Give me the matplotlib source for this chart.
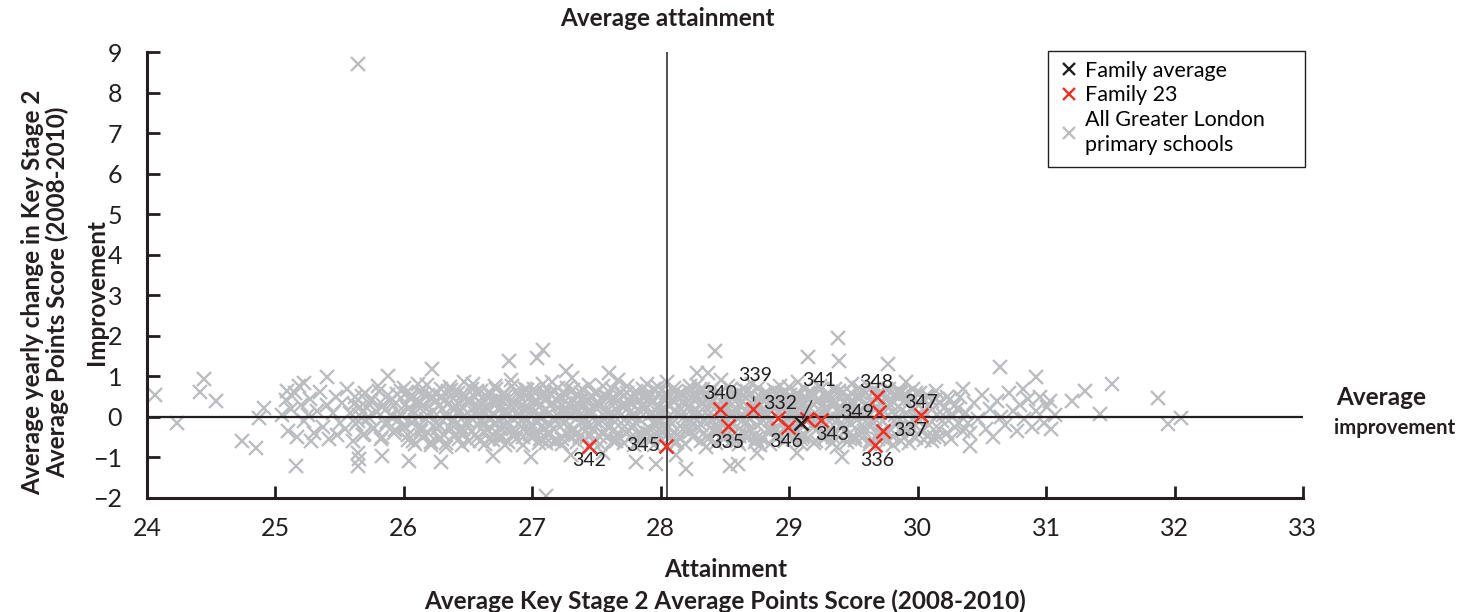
import matplotlib
matplotlib.use("Agg")
import matplotlib.pyplot as plt
from matplotlib.lines import Line2D
from matplotlib.patches import Rectangle

plt.rcParams['font.family'] = ['Lato', 'DejaVu Sans']

# ---------------- data ----------------
gray_outliers = [(25.64, 8.7), (24.06, 0.54), (24.23, -0.16), (24.44, 0.93), (24.41, 0.62),
                 (24.54, 0.38), (24.74, -0.59), (24.85, -0.77), (24.87, -0.03), (24.91, 0.23),
                 (25.16, -1.2), (25.40, 0.98), (25.88, 1.0), (25.64, -0.9), (25.65, -1.05),
                 (25.64, -1.2), (25.83, -0.96), (27.08, 1.66), (27.04, 1.46), (26.82, 1.38),
                 (26.22, 1.17), (27.26, 1.13), (27.60, 1.09), (27.11, -1.94), (26.29, -1.12),
                 (26.04, -1.08), (27.81, -1.12), (27.96, -1.16), (26.33, -0.75), (26.69, -0.96),
                 (26.99, -1.0), (28.42, 1.62), (29.38, 1.95), (29.39, 1.38), (29.15, 1.47),
                 (29.77, 1.31), (28.28, 1.09), (28.37, 1.09), (28.20, -1.29), (28.54, -1.2),
                 (29.41, -1.0), (29.06, -0.88), (30.64, 1.23), (30.92, 0.98), (30.82, 0.68),
                 (31.30, 0.64), (31.51, 0.80), (31.20, 0.39), (31.87, 0.46), (31.42, 0.07),
                 (31.95, -0.18), (32.05, -0.02), (30.41, -0.71), (27.3, -0.95), (27.55, -0.9),
                 (28.12, -0.95), (28.6, -1.15), (28.75, -0.9)]

cloud_west = [(25.05, 0.05), (25.08, 0.42), (25.1, -0.35), (25.12, 0.2), (25.15, 0.6), (25.17, -0.5),
              (25.2, 0.3), (25.22, -0.1), (25.25, 0.05), (25.27, 0.45), (25.3, -0.4), (25.32, 0.15),
              (25.35, 0.62), (25.37, -0.25), (25.4, 0.3), (25.42, -0.55), (25.45, 0.1), (25.47, 0.5),
              (25.5, -0.15), (25.48, -0.45), (25.28, -0.6), (25.18, 0.75), (25.09, 0.64), (25.22, 0.84),
              (25.52, 0.35), (25.54, -0.3), (25.56, 0.7), (25.58, 0.1), (25.6, -0.6), (25.62, 0.5),
              (25.64, -0.1), (25.66, 0.25), (25.68, -0.45), (25.7, 0.6), (25.72, 0.0), (25.74, 0.4),
              (25.76, -0.3), (25.78, 0.15), (25.8, 0.75), (25.82, -0.55), (25.84, 0.3), (25.86, -0.2),
              (25.88, 0.55), (25.9, 0.05), (25.92, -0.4), (25.94, 0.35), (25.96, -0.05), (25.98, 0.65)]

cloud_mid_a = [(26.01, -0.25), (26.03, 0.2), (26.05, 0.5), (26.07, -0.6), (26.09, 0.1), (26.11, 0.8),
               (26.13, -0.35), (26.15, 0.3), (26.17, -0.05), (26.19, 0.55), (26.21, -0.7), (26.23, 0.15),
               (26.25, 0.4), (26.27, -0.2), (26.29, 0.7), (26.31, -0.45), (26.33, 0.0), (26.35, 0.35),
               (26.37, -0.3), (26.39, 0.6), (26.41, 0.1), (26.43, -0.55), (26.45, 0.25), (26.47, 0.85),
               (26.49, -0.1), (26.51, 0.45), (26.53, -0.35), (26.55, 0.1), (26.57, 0.65), (26.59, -0.6),
               (26.61, 0.3), (26.63, -0.15), (26.65, 0.5), (26.67, 0.0), (26.69, -0.45), (26.71, 0.75),
               (26.73, 0.2), (26.75, -0.25), (26.77, 0.4), (26.79, -0.7), (26.81, 0.05), (26.83, 0.9),
               (26.85, -0.3), (26.87, 0.3), (26.89, 0.6), (26.91, -0.1), (26.93, -0.5), (26.95, 0.15),
               (26.97, 0.45), (26.99, -0.2), (27.01, 0.7), (27.03, -0.4), (27.05, 0.25), (27.07, -0.05),
               (27.09, 0.55), (27.11, -0.65), (27.13, 0.1), (27.15, 0.85), (27.17, -0.3), (27.19, 0.4),
               (27.21, 0.0), (27.23, -0.55), (27.25, 0.6), (27.27, 0.2), (27.29, -0.2), (27.31, 0.95),
               (27.33, -0.45), (27.35, 0.35), (27.37, 0.05), (27.39, 0.7), (27.41, -0.35), (27.43, 0.15),
               (27.45, -0.75), (27.47, 0.5), (27.49, -0.1), (27.51, 0.3), (27.53, -0.5), (27.55, 0.75),
               (27.57, 0.0), (27.59, -0.25), (27.61, 0.45), (27.63, -0.6), (27.65, 0.2), (27.67, 0.9),
               (27.69, -0.15), (27.71, 0.55), (27.73, -0.4), (27.75, 0.1), (27.77, 0.35), (27.79, -0.7),
               (27.81, 0.65), (27.83, -0.05), (27.85, 0.25), (27.87, -0.35), (27.89, 0.8), (27.91, 0.05),
               (27.93, -0.55), (27.95, 0.4), (27.97, -0.2), (27.99, 0.6)]

cloud_mid_b = [(28.01, -0.4), (28.03, 0.2), (28.05, 0.85), (28.07, -0.1), (28.09, 0.45), (28.11, -0.65),
               (28.13, 0.1), (28.15, 0.6), (28.17, -0.3), (28.19, 0.3), (28.21, -0.05), (28.23, 0.75),
               (28.25, -0.5), (28.27, 0.15), (28.29, 0.5), (28.31, -0.2), (28.33, 0.35), (28.35, -0.75),
               (28.37, 0.05), (28.39, 0.65), (28.41, -0.35), (28.43, 0.25), (28.45, -0.1), (28.47, 0.9),
               (28.49, -0.55), (28.51, 0.4), (28.53, -0.2), (28.55, 0.7), (28.57, 0.05), (28.59, -0.6),
               (28.61, 0.3), (28.63, -0.35), (28.65, 0.55), (28.67, 0.15), (28.69, -0.05), (28.71, 0.8),
               (28.73, -0.45), (28.75, 0.2), (28.77, -0.7), (28.79, 0.45), (28.81, 0.0), (28.83, 0.6),
               (28.85, -0.25), (28.87, 0.35), (28.89, -0.5), (28.91, 0.1), (28.93, 0.75), (28.95, -0.15),
               (28.97, 0.25), (28.99, -0.4), (29.01, 0.55), (29.03, -0.3), (29.05, 0.1), (29.07, 0.85),
               (29.09, -0.55), (29.11, 0.35), (29.13, -0.1), (29.15, 0.6), (29.17, 0.0), (29.19, -0.65),
               (29.21, 0.4), (29.23, -0.25), (29.25, 0.7), (29.27, 0.2), (29.29, -0.45), (29.31, 0.5),
               (29.33, -0.05), (29.35, 0.3), (29.37, -0.75), (29.39, 0.65), (29.41, 0.1), (29.43, -0.35),
               (29.45, 0.45), (29.47, -0.15), (29.49, 0.8), (29.51, -0.5), (29.53, 0.25), (29.55, 0.6),
               (29.57, -0.2), (29.59, 0.05), (29.61, 0.75), (29.63, -0.6), (29.65, 0.35), (29.67, -0.05),
               (29.69, 0.5), (29.71, -0.4), (29.73, 0.15), (29.75, 0.7), (29.77, -0.25), (29.79, 0.3),
               (29.81, -0.7), (29.83, 0.55), (29.85, 0.0), (29.87, -0.35), (29.89, 0.4), (29.91, 0.85),
               (29.93, -0.15), (29.95, 0.2), (29.97, -0.5), (29.99, 0.6)]

cloud_core_extra = [(26.02, 0.6), (26.06, -0.15), (26.1, 0.3), (26.14, -0.5), (26.18, 0.05), (26.22, 0.45),
                    (26.26, -0.3), (26.3, 0.2), (26.34, 0.65), (26.38, -0.1), (26.42, 0.35), (26.46, -0.4),
                    (26.5, 0.1), (26.54, 0.55), (26.58, -0.2), (26.62, 0.15), (26.66, -0.55), (26.7, 0.4),
                    (26.74, -0.05), (26.78, 0.6), (26.82, 0.25), (26.86, -0.4), (26.9, 0.05), (26.94, 0.7),
                    (26.98, -0.3), (27.02, 0.15), (27.06, -0.55), (27.1, 0.45), (27.14, -0.2), (27.18, 0.65),
                    (27.22, 0.3), (27.26, -0.4), (27.3, 0.05), (27.34, 0.55), (27.38, -0.15), (27.42, 0.4),
                    (27.46, -0.45), (27.5, 0.2), (27.54, -0.1), (27.58, 0.5), (27.62, 0.1), (27.66, -0.45),
                    (27.7, 0.3), (27.74, 0.6), (27.78, -0.2), (27.82, 0.2), (27.86, 0.5), (27.9, -0.4),
                    (27.94, 0.1), (27.98, -0.1), (28.02, 0.45), (28.06, -0.25), (28.1, 0.15), (28.14, -0.5),
                    (28.18, 0.55), (28.22, 0.25), (28.26, -0.15), (28.3, 0.65), (28.34, -0.4), (28.38, 0.3),
                    (28.42, 0.0), (28.46, -0.3), (28.5, 0.5), (28.54, 0.1), (28.58, -0.4), (28.62, 0.6),
                    (28.66, -0.15), (28.7, 0.35), (28.74, -0.55), (28.78, 0.15), (28.82, 0.45), (28.86, -0.35),
                    (28.9, 0.55), (28.94, -0.1), (28.98, 0.4), (29.02, -0.15), (29.06, 0.4), (29.1, -0.45),
                    (29.14, 0.2), (29.18, 0.5), (29.22, -0.3), (29.26, 0.1), (29.3, 0.6), (29.34, -0.5),
                    (29.38, 0.2), (29.42, -0.2), (29.46, 0.3), (29.5, 0.05), (29.54, 0.45), (29.58, -0.35),
                    (29.62, 0.1), (29.66, -0.15), (29.7, 0.6), (29.74, -0.45), (29.78, 0.25), (29.82, 0.05),
                    (29.86, 0.65), (29.9, -0.3), (29.94, 0.45), (29.98, 0.0)]

cloud_fill_west = [(25.61, 0.32), (25.63, -0.18), (25.65, 0.05), (25.67, 0.52), (25.69, -0.41), (25.71, 0.22),
                   (25.73, -0.02), (25.75, 0.44), (25.77, -0.27), (25.79, 0.12), (25.81, 0.63), (25.83, -0.5),
                   (25.85, 0.18), (25.87, -0.12), (25.89, 0.38), (25.91, 0.0), (25.93, -0.33), (25.95, 0.57),
                   (25.97, 0.08), (25.99, -0.22), (26.01, 0.29), (26.03, -0.45), (26.05, 0.48), (26.07, 0.14),
                   (26.09, -0.07), (26.11, 0.36), (26.13, -0.28), (26.15, 0.6), (26.17, 0.2), (26.19, -0.4),
                   (26.21, 0.07), (26.23, 0.5), (26.25, -0.15), (26.27, 0.27), (26.29, -0.52), (26.31, 0.4),
                   (26.33, 0.1), (26.35, -0.25), (26.37, 0.66), (26.39, -0.05), (26.41, 0.24), (26.43, -0.38),
                   (26.45, 0.53), (26.47, 0.03), (26.49, -0.2), (26.51, 0.34), (26.53, 0.7), (26.55, -0.45),
                   (26.57, 0.15), (26.59, -0.1), (26.61, 0.46), (26.63, 0.25), (26.65, -0.32), (26.67, 0.58),
                   (26.69, 0.08), (26.71, -0.2), (26.73, 0.37), (26.75, -0.55), (26.77, 0.12), (26.79, 0.5),
                   (26.81, -0.12), (26.83, 0.3), (26.85, -0.42), (26.87, 0.65), (26.89, 0.02), (26.91, 0.26),
                   (26.93, -0.3), (26.95, 0.54), (26.97, -0.08), (26.99, 0.18), (27.01, -0.48), (27.03, 0.42),
                   (27.05, 0.08), (27.07, -0.25), (27.09, 0.62), (27.11, 0.2), (27.13, -0.38), (27.15, 0.35),
                   (27.17, 0.0), (27.19, -0.6), (27.21, 0.5), (27.23, 0.15), (27.25, -0.15), (27.27, 0.72),
                   (27.29, 0.3), (27.31, -0.35), (27.33, 0.1), (27.35, 0.55), (27.37, -0.5), (27.39, 0.22),
                   (27.41, -0.02), (27.43, 0.45), (27.45, 0.18), (27.47, -0.3), (27.49, 0.6), (27.51, -0.12),
                   (27.53, 0.28), (27.55, -0.42), (27.57, 0.52), (27.59, 0.05), (27.61, -0.22), (27.63, 0.38),
                   (27.65, -0.55), (27.67, 0.15), (27.69, 0.62), (27.71, -0.08), (27.73, 0.3), (27.75, -0.35),
                   (27.77, 0.5), (27.79, 0.02), (27.81, -0.15), (27.83, 0.42), (27.85, -0.48), (27.87, 0.2),
                   (27.89, 0.55), (27.91, -0.28), (27.93, 0.1), (27.95, 0.68), (27.97, -0.38), (27.99, 0.25)]

cloud_fill_east = [(28.01, 0.1), (28.03, -0.3), (28.05, 0.5), (28.07, 0.28), (28.09, -0.18), (28.11, 0.62),
                   (28.13, -0.45), (28.15, 0.05), (28.17, 0.4), (28.19, -0.1), (28.21, 0.22), (28.23, -0.38),
                   (28.25, 0.55), (28.27, 0.0), (28.29, -0.25), (28.31, 0.34), (28.33, 0.68), (28.35, -0.5),
                   (28.37, 0.18), (28.39, -0.05), (28.41, 0.45), (28.43, -0.28), (28.45, 0.6), (28.47, 0.12),
                   (28.49, -0.4), (28.51, 0.3), (28.53, 0.05), (28.55, -0.15), (28.57, 0.52), (28.59, 0.2),
                   (28.61, -0.48), (28.63, 0.4), (28.65, -0.05), (28.67, 0.65), (28.69, -0.3), (28.71, 0.15),
                   (28.73, 0.45), (28.75, -0.2), (28.77, 0.3), (28.79, -0.52), (28.81, 0.58), (28.83, 0.1),
                   (28.85, -0.08), (28.87, 0.48), (28.89, 0.22), (28.91, -0.42), (28.93, 0.35), (28.95, -0.18),
                   (28.97, 0.6), (28.99, 0.05), (29.01, -0.35), (29.03, 0.25), (29.05, 0.55), (29.07, -0.12),
                   (29.09, 0.4), (29.11, -0.5), (29.13, 0.18), (29.15, -0.02), (29.17, 0.62), (29.19, 0.3),
                   (29.21, -0.2), (29.23, 0.45), (29.25, -0.45), (29.27, 0.08), (29.29, 0.5), (29.31, -0.1),
                   (29.33, 0.28), (29.35, -0.38), (29.37, 0.6), (29.39, 0.12), (29.41, -0.25), (29.43, 0.35),
                   (29.45, 0.0), (29.47, -0.55), (29.49, 0.42), (29.51, 0.2), (29.53, -0.08), (29.55, 0.5),
                   (29.57, -0.4), (29.59, 0.3), (29.61, 0.08), (29.63, -0.22), (29.65, 0.58), (29.67, 0.18),
                   (29.69, -0.45), (29.71, 0.32), (29.73, -0.1), (29.75, 0.48), (29.77, 0.05), (29.79, -0.32),
                   (29.81, 0.4), (29.83, -0.15), (29.85, 0.25), (29.87, 0.6), (29.89, -0.5), (29.91, 0.1),
                   (29.93, 0.35), (29.95, -0.25), (29.97, 0.5), (29.99, -0.05), (30.01, 0.3), (30.03, -0.35),
                   (30.05, 0.15), (30.07, 0.55), (30.09, -0.2), (30.11, 0.4), (30.13, -0.5), (30.15, 0.05),
                   (30.17, 0.35), (30.19, -0.1), (30.21, 0.25), (30.23, -0.4), (30.25, 0.45), (30.27, 0.0),
                   (30.29, -0.25), (30.31, 0.2), (30.33, 0.5), (30.35, -0.35), (30.37, 0.1), (30.39, -0.15)]

cloud_fill_core = [(26.42, 0.12), (26.46, -0.3), (26.5, 0.4), (26.54, -0.05), (26.58, 0.28), (26.62, -0.38),
                   (26.66, 0.2), (26.7, 0.02), (26.74, 0.45), (26.78, -0.25), (26.82, 0.1), (26.86, 0.35),
                   (26.9, -0.18), (26.94, 0.25), (26.98, -0.42), (27.02, 0.4), (27.06, 0.0), (27.1, -0.28),
                   (27.14, 0.3), (27.18, -0.1), (27.22, 0.48), (27.26, 0.1), (27.3, -0.35), (27.34, 0.22),
                   (27.38, 0.42), (27.42, -0.2), (27.46, 0.05), (27.5, 0.35), (27.54, -0.4), (27.58, 0.15),
                   (27.62, -0.05), (27.66, 0.4), (27.7, -0.3), (27.74, 0.2), (27.78, 0.02), (27.82, -0.42),
                   (27.86, 0.3), (27.9, 0.45), (27.94, -0.15), (27.98, 0.1), (28.02, -0.2), (28.06, 0.35),
                   (28.1, -0.38), (28.14, 0.25), (28.18, 0.0), (28.22, -0.3), (28.26, 0.42), (28.3, 0.12),
                   (28.34, -0.1), (28.38, 0.48), (28.42, -0.35), (28.46, 0.05), (28.5, 0.28), (28.54, -0.25),
                   (28.58, 0.4), (28.62, 0.0), (28.66, -0.42), (28.7, 0.2), (28.74, 0.35), (28.78, -0.15),
                   (28.82, 0.1), (28.86, 0.42), (28.9, -0.3), (28.94, 0.22), (28.98, -0.05), (29.02, 0.35),
                   (29.06, -0.4), (29.1, 0.15), (29.14, 0.45), (29.18, -0.2), (29.22, 0.05), (29.26, 0.3),
                   (29.3, -0.35), (29.34, 0.4), (29.38, -0.05), (29.42, 0.2), (29.46, -0.45), (29.5, 0.35),
                   (29.54, 0.1), (29.58, -0.25)]

cloud_fill_edge = [(26.0, 0.72), (26.03, -0.58), (26.06, 0.55), (26.09, -0.68), (26.12, 0.62), (26.15, -0.5),
                   (26.18, 0.78), (26.21, -0.62), (26.24, 0.58), (26.27, -0.55), (26.3, 0.5), (26.33, -0.65),
                   (26.36, 0.74), (26.39, -0.48), (26.42, 0.6), (26.45, -0.7), (26.48, 0.52), (26.51, -0.6),
                   (26.54, 0.82), (26.57, -0.52), (26.6, 0.64), (26.63, -0.66), (26.66, 0.56), (26.69, -0.58),
                   (26.72, 0.7), (26.75, -0.48), (26.78, 0.6), (26.81, -0.62), (26.84, 0.76), (26.87, -0.55),
                   (26.9, 0.52), (26.93, -0.7), (26.96, 0.66), (26.99, -0.5), (27.02, 0.58), (27.05, -0.64),
                   (27.08, 0.8), (27.11, -0.52), (27.14, 0.6), (27.17, -0.6), (27.2, 0.72), (27.23, -0.68),
                   (27.26, 0.55), (27.29, -0.5), (27.32, 0.66), (27.35, -0.62), (27.38, 0.58), (27.41, -0.55),
                   (27.44, 0.78), (27.47, -0.6), (27.5, 0.62), (27.53, -0.68), (27.56, 0.54), (27.59, -0.48),
                   (27.62, 0.7), (27.65, -0.6), (27.68, 0.6), (27.71, -0.65), (27.74, 0.76), (27.77, -0.5),
                   (27.8, 0.55), (27.83, -0.62), (27.86, 0.68), (27.89, -0.55), (27.92, 0.6), (27.95, -0.7),
                   (27.98, 0.74), (28.01, -0.58), (28.04, 0.6), (28.07, -0.52), (28.1, 0.72), (28.13, -0.62),
                   (28.16, 0.56), (28.19, -0.66), (28.22, 0.64), (28.25, -0.5), (28.28, 0.78), (28.31, -0.6),
                   (28.34, 0.55), (28.37, -0.55), (28.4, 0.7), (28.43, -0.64), (28.46, 0.6), (28.49, -0.5),
                   (28.52, 0.75), (28.55, -0.6), (28.58, 0.55), (28.61, -0.66), (28.64, 0.68), (28.67, -0.52),
                   (28.7, 0.6), (28.73, -0.62), (28.76, 0.72), (28.79, -0.55), (28.82, 0.56), (28.85, -0.68),
                   (28.88, 0.66), (28.91, -0.5), (28.94, 0.6), (28.97, -0.6), (29.0, 0.74), (29.03, -0.55),
                   (29.06, 0.58), (29.09, -0.66), (29.12, 0.7), (29.15, -0.52), (29.18, 0.6), (29.21, -0.6),
                   (29.24, 0.76), (29.27, -0.55), (29.3, 0.55), (29.33, -0.64), (29.36, 0.68), (29.39, -0.5),
                   (29.42, 0.62), (29.45, -0.62), (29.48, 0.58), (29.51, -0.58), (29.54, 0.72), (29.57, -0.52),
                   (29.6, 0.6), (29.63, -0.66), (29.66, 0.66), (29.69, -0.55), (29.72, 0.58), (29.75, -0.6),
                   (29.78, 0.7), (29.81, -0.5), (29.84, 0.62), (29.87, -0.6), (29.9, 0.56), (29.93, -0.64),
                   (29.96, 0.7), (29.99, -0.52), (30.02, 0.6), (30.05, -0.58), (30.08, 0.5), (30.11, -0.6),
                   (30.14, 0.45), (30.17, -0.5)]

cloud_east = [(30.02, -0.1), (30.05, 0.45), (30.08, -0.45), (30.11, 0.2), (30.14, 0.65), (30.17, -0.3),
              (30.2, 0.05), (30.23, 0.5), (30.26, -0.55), (30.29, 0.3), (30.32, -0.15), (30.35, 0.7),
              (30.38, 0.1), (30.41, -0.4), (30.44, 0.35), (30.47, -0.05), (30.5, 0.55), (30.53, -0.3),
              (30.56, 0.2), (30.59, -0.5), (30.62, 0.4), (30.65, 0.0), (30.68, -0.2), (30.71, 0.6),
              (30.74, 0.15), (30.77, -0.35), (30.8, 0.3), (30.83, -0.05), (30.86, 0.45), (30.89, -0.25),
              (30.92, 0.15), (30.95, 0.5), (30.98, -0.15), (31.01, 0.25), (31.04, -0.3), (31.07, 0.05),
              (31.03, 0.4)]

family_ids = ['332', '335', '336', '337', '339', '340', '341', '342', '343', '345', '346', '347', '348', '349']
family_x = [28.91, 28.52, 29.67, 29.73, 28.72, 28.46, 29.14, 27.44, 29.25, 28.04, 28.99, 30.03, 29.68, 29.70]
family_y = [-0.02, -0.22, -0.69, -0.34, 0.19, 0.19, -0.05, -0.71, -0.08, -0.71, -0.26, 0.04, 0.49, 0.11]

family_avg_x = 29.09
family_avg_y = -0.14
london_avg_attainment = 28.05
london_avg_improvement = 0.0

x_ticks = [24, 25, 26, 27, 28, 29, 30, 31, 32, 33]
y_ticks = [-2, -1, 0, 1, 2, 3, 4, 5, 6, 7, 8, 9]

# label placement (offset in points, alignment)
label_layout = {
    '332': (2, 10, 'center'), '335': (0, -12, 'center'), '336': (1, -11, 'center'),
    '337': (7.5, 0, 'left'), '339': (1, 24, 'center'), '340': (0, 11, 'center'),
    '341': (8.5, 26.5, 'center'), '342': (0, -10.5, 'center'), '343': (7.7, -10.6, 'center'),
    '345': (-4.3, 0, 'right'), '346': (-1, -10, 'center'), '347': (0, 9, 'center'),
    '348': (0, 10.3, 'center'), '349': (-4, 0, 'right'),
}

GRAY = '#bcbdc0'
RED = '#ec3126'
INK = '#231f20'

# ---------------- figure ----------------
fig = plt.figure(figsize=(14.63, 6.12), dpi=100)
ax = fig.add_axes([0.1005, 0.1863, 0.7901, 0.7287])

all_gray = (gray_outliers + cloud_west + cloud_mid_a + cloud_mid_b + cloud_core_extra
            + cloud_fill_west + cloud_fill_east + cloud_fill_core + cloud_fill_edge + cloud_east)
gx = [p[0] for p in all_gray]
gy = [p[1] for p in all_gray]
ax.plot(gx, gy, linestyle='none', marker='x', color=GRAY, markersize=10, markeredgewidth=1.7, zorder=2)

ax.axhline(london_avg_improvement, color=INK, lw=1.6, zorder=3)
ax.axvline(london_avg_attainment, color=INK, lw=1.1, zorder=3)

ax.plot(family_x, family_y, linestyle='none', marker='x', color=RED, markersize=10,
        markeredgewidth=1.8, zorder=4)
ax.plot([family_avg_x], [family_avg_y], linestyle='none', marker='x', color=INK,
        markersize=10, markeredgewidth=1.8, zorder=5)

for fid, fx, fy in zip(family_ids, family_x, family_y):
    dx, dy, ha = label_layout[fid]
    if fid == '339':
        ax.annotate(fid, xy=(fx, fy), xytext=(dx, dy), textcoords='offset points',
                    ha=ha, va='center', fontsize=14, color=INK, zorder=6,
                    arrowprops=dict(arrowstyle='-', color=INK, lw=0.9, shrinkA=7, shrinkB=6))
    elif fid == '341':
        ax.annotate(fid, xy=(family_avg_x, family_avg_y), xytext=(dx + 5, dy + 4),
                    textcoords='offset points', ha=ha, va='center', fontsize=14, color=INK,
                    zorder=6, arrowprops=dict(arrowstyle='-', color=INK, lw=0.9, shrinkA=7,
                                              shrinkB=3, relpos=(0.45, 0.0)))
    else:
        ax.annotate(fid, xy=(fx, fy), xytext=(dx, dy), textcoords='offset points',
                    ha=ha, va='center', fontsize=14, color=INK, zorder=6)

ax.set_xlim(24, 33)
ax.set_ylim(-2, 9)
ax.set_xticks(x_ticks)
ax.set_yticks(y_ticks)
ax.spines['top'].set_visible(False)
ax.spines['right'].set_visible(False)
for s in ('left', 'bottom'):
    ax.spines[s].set_linewidth(2.2)
    ax.spines[s].set_color(INK)
ax.tick_params(axis='both', direction='in', length=9, width=2, color=INK,
               labelsize=18, labelcolor=INK)
ax.tick_params(axis='x', pad=14)
ax.tick_params(axis='y', pad=18)

# axis titles
TS = 17.5
fig.text(0.4959, 0.070, 'Attainment', ha='center', va='center', fontsize=TS, fontweight='bold',
         color=INK)
fig.text(0.4959, 0.018, 'Average Key Stage 2 Average Points Score (2008-2010)', ha='center',
         va='center', fontsize=TS, fontweight='bold', color=INK)
fig.text(0.066, 0.523, 'Improvement', ha='center', va='center', rotation=90, fontsize=TS,
         fontweight='bold', color=INK)
fig.text(0.031, 0.523, 'Average yearly change in Key Stage 2\nAverage Points Score (2008-2010)',
         ha='center', va='center', rotation=90, fontsize=TS, fontweight='bold', color=INK,
         linespacing=1.1)
ax.text(london_avg_attainment, 1.076, 'Average attainment', transform=ax.get_xaxis_transform(),
        ha='center', va='center', fontsize=TS, fontweight='bold', color=INK)
fig.text(0.9135, 0.351, 'Average', ha='left', va='center', fontsize=TS,
         fontweight='bold', color=INK)
fig.text(0.9118, 0.301, 'improvement', ha='left', va='center', fontsize=14.6,
         fontweight='bold', color=INK)

# legend
fig.patches.append(Rectangle((0.7163, 0.7271), 0.1757, 0.1895, transform=fig.transFigure,
                             fill=False, edgecolor=INK, linewidth=1.0, zorder=10))
handles = [Line2D([], [], linestyle='none', marker='x', color=INK, markersize=9, markeredgewidth=1.7),
           Line2D([], [], linestyle='none', marker='x', color=RED, markersize=9, markeredgewidth=1.7),
           Line2D([], [], linestyle='none', marker='x', color=GRAY, markersize=9, markeredgewidth=1.7)]
labels = ['Family average', 'Family 23', 'All Greater London\nprimary schools']
leg = fig.legend(handles, labels, loc='upper left', bbox_to_anchor=(0.726, 0.901), fontsize=15.5,
                 frameon=False, handlelength=0.6, handletextpad=0.45, borderpad=0,
                 labelspacing=0.22, borderaxespad=0)
for t in leg.get_texts():
    t.set_linespacing(1.3)

fig.savefig('out.png', dpi=100)
